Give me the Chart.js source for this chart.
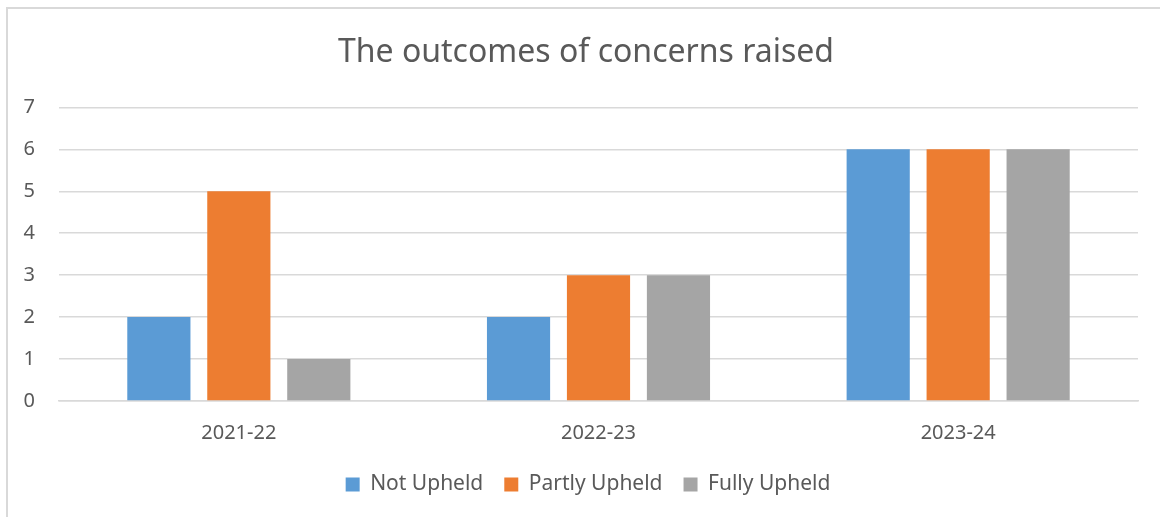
<!DOCTYPE html>
<html><head><meta charset="utf-8">
<script src="https://cdn.jsdelivr.net/npm/chart.js@4"></script>
<style>
html,body{margin:0;padding:0;background:#fff;overflow:hidden;width:1160px;height:517px}
#frame{position:absolute;left:6px;top:7px;width:1200px;height:600px;border:2px solid #d9d9d9;box-sizing:border-box}
#wrap{position:absolute;left:0;top:0;width:1160px;height:517px}
</style></head><body>
<div id="frame"></div>
<div id="wrap"><canvas id="c" width="1160" height="517"></canvas></div>
<script>
const categories = ['2021-22', '2022-23', '2023-24'];
const seriesNames = ['Not Upheld', 'Partly Upheld', 'Fully Upheld'];
const notUpheld = [2, 2, 6];
const partlyUpheld = [5, 3, 6];
const fullyUpheld = [1, 3, 6];
const yMin = 0, yMax = 7, yStep = 1;
const colors = ['#5B9BD5', '#ED7D31', '#A5A5A5'];

const FONT = "'Noto Sans', sans-serif";
const TXT = '#595959';

const shiftBlocks = {
  id: 'shiftBlocks',
  afterLayout(chart) {
    const lg = chart.legend;
    if (lg) { lg.left += 19; lg.right += 19; }
    const tb = chart.titleBlock;
    if (tb) { tb.left += 17; tb.right += 17; }
  }
};

new Chart(document.getElementById('c'), {
  type: 'bar',
  plugins: [shiftBlocks],
  data: {
    labels: categories,
    datasets: [notUpheld, partlyUpheld, fullyUpheld].map((d, i) => ({
      label: seriesNames[i],
      data: d,
      backgroundColor: colors[i],
      borderWidth: 0,
      categoryPercentage: 0.667,
      barPercentage: 0.79
    }))
  },
  options: {
    responsive: false,
    animation: false,
    devicePixelRatio: 1,
    layout: { padding: { left: 0, right: 22, top: 0, bottom: 12 } },
    plugins: {
      tooltip: { enabled: false },
      title: {
        display: true,
        text: 'The outcomes of concerns raised',
        color: TXT,
        font: { family: FONT, size: 32, weight: 'normal' },
        padding: { top: 34, bottom: 35 }
      },
      legend: {
        position: 'bottom',
        labels: {
          color: TXT,
          font: { family: FONT, size: 21 },
          boxWidth: 14,
          boxHeight: 14,
          padding: 21
        }
      }
    },
    scales: {
      x: {
        grid: { display: false, drawTicks: false },
        border: { color: '#d9d9d9', width: 1.5 },
        ticks: { color: TXT, font: { family: FONT, size: 20 }, padding: 20 },
        afterFit: s => { s.height = 52; }
      },
      y: {
        min: yMin, max: yMax,
        grid: { color: '#d9d9d9', lineWidth: 1.5, drawTicks: false },
        border: { display: false },
        ticks: { stepSize: yStep, color: TXT, font: { family: FONT, size: 20 }, padding: 24 },
        afterFit: s => { s.width = 59; }
      }
    }
  }
});
</script>
</body></html>
